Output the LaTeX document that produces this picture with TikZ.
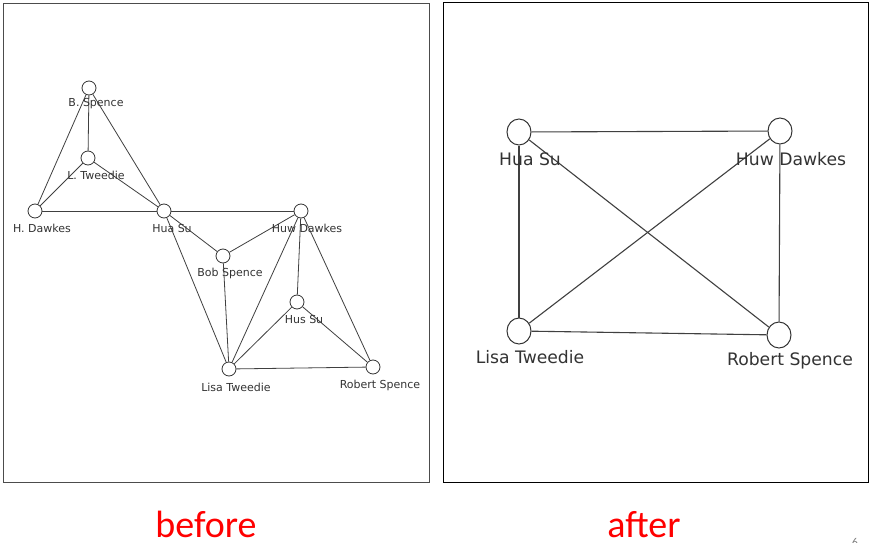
\documentclass[tikz,border=0pt]{standalone}
\usepackage{fontspec}
\usetikzlibrary{shapes.geometric}
\setmainfont{DejaVu Sans}
\newfontfamily\capfont{Carlito}
\begin{document}
\begin{tikzpicture}[x=1pt,y=-1pt,
  frame/.style={draw=black,line width=1pt},
  vs/.style={circle,draw=black!80,fill=white,line width=0.8pt,minimum size=14pt,inner sep=0pt},
  vb/.style={ellipse,draw=black!80,fill=white,line width=1pt,minimum width=24pt,minimum height=26pt,inner sep=0pt},
  ls/.style={font=\fontsize{11}{13}\selectfont,text=black!80,inner sep=0pt},
  lb/.style={font=\fontsize{17.2}{20}\selectfont,text=black!80,inner sep=0pt},
  es/.style={draw=black!75,line width=0.8pt},
  eb/.style={draw=black!75,line width=1.1pt},
  captxt/.style={font=\capfont\fontsize{38}{42}\selectfont,text=red,inner sep=0pt,anchor=base}]
\useasboundingbox (0,0) rectangle (873,543);
\fill[white] (0,0) rectangle (873,543);
\draw[frame,draw=black!70] (3,4) rectangle (429,482);
\draw[frame] (443,3) rectangle (868,482);
% before
\node[vs] (bs) at (89,88) {};
\node[vs] (lt) at (88,158) {};
\node[vs] (hd) at (35,211) {};
\node[vs] (hs) at (164,211) {};
\node[vs] (hw) at (301,211) {};
\node[vs] (bo) at (223,256) {};
\node[vs] (hu) at (297,302) {};
\node[vs] (li) at (229,369) {};
\node[vs] (rs) at (373,367) {};
\foreach \a/\b in {bs/lt,bs/hd,bs/hs,lt/hd,lt/hs,hd/hs,hs/hw,hs/bo,hs/li,bo/hw,bo/li,hw/li,hw/hu,hw/rs,hu/li,hu/rs,li/rs}
  \draw[es] (\a) -- (\b);
\node[ls] (bsl) at (96,104) {B. Spence};
\node[ls] (ltl) at (96,175) {L. Tweedie};
\node[ls] (hdl) at (42,228) {H. Dawkes};
\node[ls] (hsl) at (172,228) {Hua Su};
\node[ls] (hwl) at (307,228) {Huw Dawkes};
\node[ls] (bol) at (230,273) {Bob Spence};
\node[ls] (hul) at (304,319) {Hus Su};
\node[ls] (lil) at (236,387) {Lisa Tweedie};
\node[ls] (rsl) at (380,385) {Robert Spence};
% after
\node[vb] (A) at (519,132) {};
\node[vb] (B) at (780,131) {};
\node[vb] (C) at (519,331) {};
\node[vb] (D) at (779,335) {};
\foreach \a/\b in {A/B,A/C,A/D,B/C,B/D,C/D}
  \draw[eb] (\a) -- (\b);
\node[lb] (Al) at (530,159) {Hua Su};
\node[lb] (Bl) at (791,159) {Huw Dawkes};
\node[lb] (Cl) at (530,357) {Lisa Tweedie};
\node[lb] (Dl) at (790,361) {Robert Spence};
% captions
\node[captxt] (before) at (206,537) {before};
\node[captxt] (after) at (644,537) {after};
\node[font=\capfont\fontsize{12}{14}\selectfont,text=black!50,inner sep=0pt,anchor=base] (pg) at (855,546) {6};
\end{tikzpicture}
\end{document}
